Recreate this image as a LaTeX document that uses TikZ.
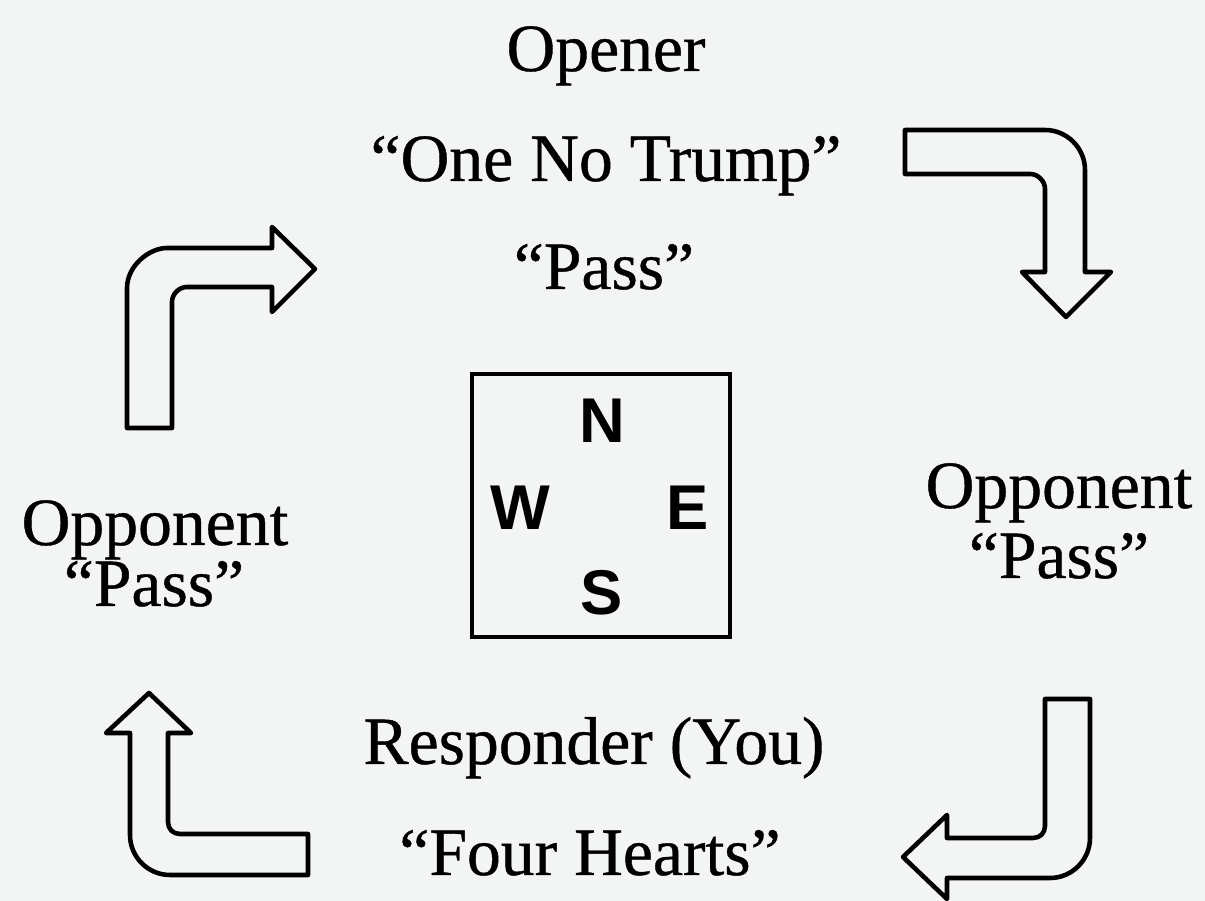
\documentclass[tikz,border=0pt]{standalone}
\usepackage{fontspec}
\setmainfont{Liberation Serif}[FakeBold=0.6]
\newfontfamily\compassfont{Liberation Sans}
\definecolor{bg}{RGB}{243,244,244}
\tikzset{
  lbl/.style={anchor=base, inner sep=0pt, font=\fontsize{38.5}{40}\selectfont},
  dir/.style={anchor=center, inner sep=0pt, font=\compassfont\bfseries\fontsize{36}{38}\selectfont},
  blockarrow/.style={draw=black, line width=2.6pt, line join=round, fill=bg},
  compass/.style={draw=black, line width=2pt}
}
\begin{document}
\begin{tikzpicture}[x=0.02cm, y=-0.02cm]
\fill[bg] (0,0) rectangle (1205,901);
\useasboundingbox (0,0) rectangle (1205,901);

% texts
\node[lbl] (opener) at (606,71) {Opener};
\node[lbl] (onent) at (606,181) {“One No Trump”};
\node[lbl] (pass1) at (604,289) {“Pass”};
\node[lbl] (oppW) at (155,545) {Opponent};
\node[lbl] (passW) at (154,606) {“Pass”};
\node[lbl] (oppE) at (1059,508) {Opponent};
\node[lbl] (passE) at (1059,578) {“Pass”};
\node[lbl] (resp) at (594,764) {Responder (You)};
\node[lbl] (four) at (590,875) {“Four Hearts”};

% compass box
\draw[compass] (472,374) rectangle (730,637);
\node[dir] (N) at (602,421) {N};
\node[dir] (W) at (520,508) {W};
\node[dir] (E) at (688,508) {E};
\node[dir] (S) at (602,593) {S};

% arrow top-left (up then right)
\draw[blockarrow] (127,428) -- (127,288) .. controls (127,266) and (149,248) .. (167,248)
  -- (272,248) -- (272,227) -- (315,269) -- (272,312) -- (272,287) -- (187,287)
  .. controls (179,287) and (172,294) .. (172,302) -- (172,428) -- cycle;

% arrow top-right (right then down)
\draw[blockarrow] (905,130) -- (1045,130) .. controls (1067,130) and (1085,148) .. (1085,170)
  -- (1085,272) -- (1111,272) -- (1066,317) -- (1022,272) -- (1045,272) -- (1045,189)
  .. controls (1045,181) and (1038,174) .. (1030,174) -- (905,174) -- cycle;

% arrow bottom-right (down then left)
\draw[blockarrow] (1045,699) -- (1090,699) -- (1090,838) .. controls (1090,860) and (1072,878) .. (1050,878)
  -- (947,878) -- (947,899) -- (903,857) -- (947,815) -- (947,838) -- (1033,838)
  .. controls (1040,838) and (1045,833) .. (1045,826) -- cycle;

% arrow bottom-left (left then up)
\draw[blockarrow] (149,693) -- (191,733) -- (168,733) -- (168,822)
  .. controls (168,829) and (173,834) .. (180,834) -- (308,834) -- (308,875) -- (170,875)
  .. controls (148,875) and (130,857) .. (130,835) -- (130,733) -- (106,733) -- cycle;
\end{tikzpicture}
\end{document}
